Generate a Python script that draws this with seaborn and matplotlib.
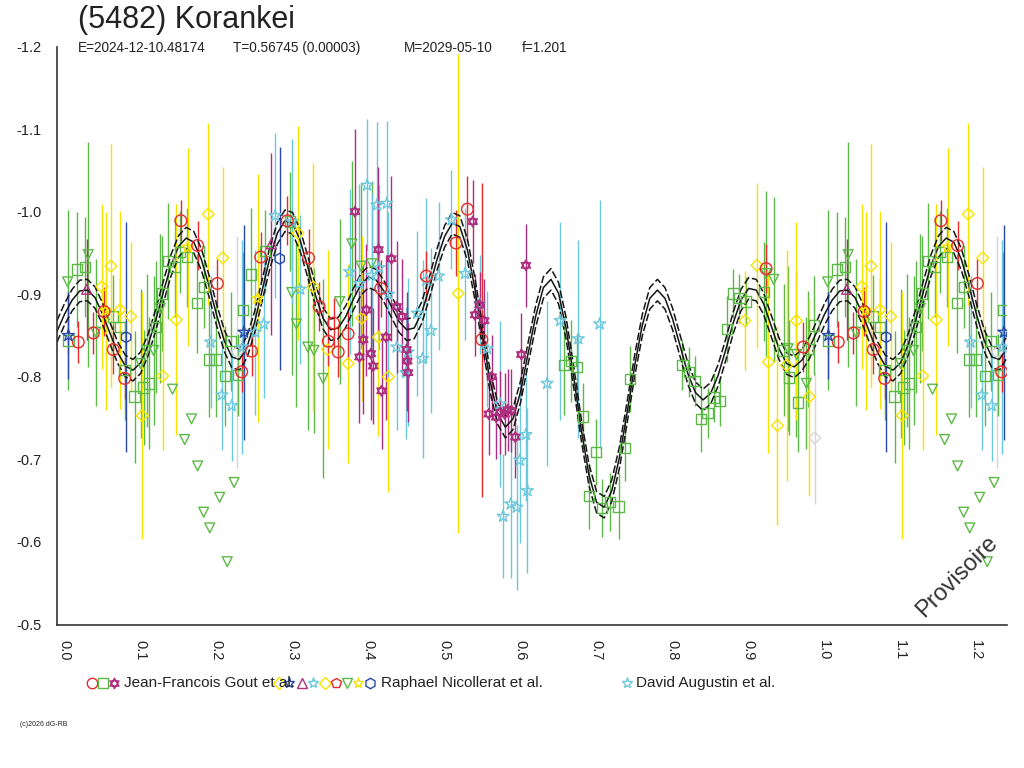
import numpy as np
import pandas as pd
import matplotlib
matplotlib.use("Agg")
import matplotlib.pyplot as plt
from matplotlib.lines import Line2D
from matplotlib.path import Path
import seaborn as sns

# ---- fitted model (phase 0.00 .. 0.99, step 0.01) ----
fit_phase = [round(i / 100, 2) for i in range(100)]
fit_mag = [
    -0.855, -0.876, -0.893, -0.904, -0.905, -0.896, -0.876, -0.852, -0.829, -0.813,
    -0.808, -0.817, -0.839, -0.869, -0.903, -0.935, -0.958, -0.968, -0.963, -0.942,
    -0.910, -0.875, -0.844, -0.824, -0.821, -0.836, -0.866, -0.905, -0.944, -0.974,
    -0.989, -0.986, -0.965, -0.933, -0.899, -0.871, -0.857, -0.859, -0.873, -0.894,
    -0.912, -0.921, -0.917, -0.904, -0.885, -0.867, -0.857, -0.859, -0.878, -0.908,
    -0.942, -0.970, -0.986, -0.982, -0.954, -0.906, -0.849, -0.794, -0.755, -0.739,
    -0.749, -0.782, -0.829, -0.874, -0.908, -0.918, -0.901, -0.858, -0.799, -0.735,
    -0.681, -0.648, -0.642, -0.662, -0.702, -0.756, -0.813, -0.862, -0.895, -0.905,
    -0.895, -0.870, -0.837, -0.804, -0.781, -0.772, -0.780, -0.802, -0.833, -0.866,
    -0.893, -0.907, -0.905, -0.888, -0.861, -0.834, -0.816, -0.812, -0.820, -0.835,
]
fit_spread = 0.013

# ---- observations: Jean-Francois Gout et al. ----
red_phase = [0.028, 0.048, 0.062, 0.074, 0.089, 0.163, 0.185, 0.211, 0.243, 0.256,
             0.268, 0.303, 0.331, 0.345, 0.357, 0.364, 0.370, 0.383, 0.426, 0.486,
             0.525, 0.540, 0.559, 0.933, 0.982]
red_mag = [-0.842, -0.853, -0.879, -0.833, -0.798, -0.989, -0.959, -0.913, -0.806, -0.831,
           -0.945, -0.989, -0.944, -0.885, -0.843, -0.865, -0.830, -0.852, -0.907, -0.922,
           -0.962, -1.003, -0.845, -0.931, -0.836]
red_err = [0.025, 0.025, 0.030, 0.030, 0.025, 0.025, 0.030, 0.030, 0.025, 0.030,
           0.030, 0.030, 0.035, 0.030, 0.030, 0.030, 0.030, 0.030, 0.035, 0.030,
           0.040, 0.040, 0.190, 0.030, 0.030]

sq_phase = [0.015, 0.026, 0.037, 0.074, 0.083, 0.089, 0.102, 0.114, 0.121, 0.130,
            0.138, 0.146, 0.155, 0.162, 0.171, 0.184, 0.193, 0.200, 0.209, 0.221,
            0.229, 0.238, 0.245, 0.255, 0.274, 0.307, 0.667, 0.676, 0.684, 0.692,
            0.700, 0.709, 0.717, 0.728, 0.739, 0.747, 0.754, 0.823, 0.832, 0.839,
            0.847, 0.856, 0.864, 0.872, 0.882, 0.890, 0.898, 0.907, 0.930, 0.956,
            0.963, 0.975, 0.988, 0.996]
sq_mag = [-0.844, -0.930, -0.933, -0.873, -0.860, -0.808, -0.776, -0.787, -0.792, -0.860,
          -0.901, -0.940, -0.933, -0.951, -0.945, -0.889, -0.909, -0.821, -0.821, -0.801,
          -0.843, -0.802, -0.881, -0.924, -0.952, -0.988, -0.814, -0.819, -0.812, -0.752,
          -0.656, -0.709, -0.641, -0.648, -0.643, -0.714, -0.797, -0.814, -0.806, -0.795,
          -0.749, -0.756, -0.775, -0.771, -0.858, -0.901, -0.895, -0.891, -0.903, -0.832,
          -0.799, -0.769, -0.834, -0.862]
sq_err = [0.06, 0.07, 0.06, 0.05, 0.06, 0.06, 0.08, 0.07, 0.08, 0.08,
          0.07, 0.07, 0.06, 0.05, 0.06, 0.06, 0.05, 0.07, 0.07, 0.06,
          0.06, 0.05, 0.07, 0.08, 0.05, 0.06, 0.06, 0.05, 0.04, 0.04,
          0.04, 0.04, 0.035, 0.035, 0.04, 0.04, 0.04, 0.03, 0.03, 0.03,
          0.04, 0.03, 0.03, 0.03, 0.04, 0.03, 0.03, 0.03, 0.06, 0.08,
          0.07, 0.06, 0.07, 0.06]

hexa_phase = [0.392, 0.398, 0.403, 0.407, 0.413, 0.416, 0.423, 0.427, 0.433, 0.440,
              0.447, 0.454, 0.460, 0.461, 0.462, 0.547, 0.550, 0.556, 0.562, 0.568,
              0.572, 0.578, 0.583, 0.589, 0.593, 0.598, 0.603, 0.611, 0.617]
hexa_mag = [-1.000, -0.824, -0.845, -0.881, -0.828, -0.813, -0.954, -0.783, -0.848, -0.943,
            -0.885, -0.873, -0.833, -0.819, -0.805, -0.988, -0.875, -0.887, -0.868, -0.755,
            -0.800, -0.751, -0.757, -0.755, -0.760, -0.759, -0.727, -0.827, -0.935]
hexa_err = [0.10, 0.08, 0.09, 0.08, 0.08, 0.07, 0.10, 0.07, 0.10, 0.10,
            0.08, 0.07, 0.07, 0.06, 0.06, 0.05, 0.05, 0.04, 0.05, 0.05,
            0.05, 0.05, 0.05, 0.05, 0.05, 0.05, 0.05, 0.05, 0.05]

# ---- observations: Raphael Nicollerat et al. ----
dia_phase = [0.059, 0.071, 0.083, 0.097, 0.112, 0.139, 0.157, 0.199, 0.218, 0.317,
             0.337, 0.356, 0.383, 0.401, 0.423, 0.436, 0.528, 0.905, 0.921, 0.936,
             0.948, 0.960, 0.973, 0.990]
dia_mag = [-0.909, -0.934, -0.881, -0.873, -0.753, -0.801, -0.869, -0.997, -0.944, -0.974,
           -0.909, -0.833, -0.816, -0.871, -0.848, -0.800, -0.901, -0.868, -0.935, -0.818,
           -0.741, -0.814, -0.868, -0.776]
dia_err = [0.10, 0.148, 0.12, 0.09, 0.15, 0.09, 0.14, 0.11, 0.11, 0.13,
           0.15, 0.12, 0.12, 0.10, 0.12, 0.14, 0.29, 0.06, 0.10, 0.11,
           0.12, 0.14, 0.12, 0.12]

ystar_phase = [0.064, 0.172, 0.264]
ystar_mag = [-0.880, -0.957, -0.895]
ystar_err = [0.12, 0.12, 0.15]

tri_phase = [0.014, 0.041, 0.051, 0.110, 0.118, 0.127, 0.136, 0.309, 0.315, 0.330,
             0.338, 0.350, 0.372, 0.388, 0.400, 0.414, 0.933, 0.943, 0.962, 0.973,
             0.986, 0.152, 0.168, 0.177, 0.185, 0.193, 0.201, 0.214, 0.224, 0.233]
tri_mag = [-0.915, -0.948, -0.854, -0.816, -0.832, -0.832, -0.883, -0.902, -0.864, -0.836,
           -0.832, -0.798, -0.891, -0.961, -0.934, -0.937, -0.925, -0.918, -0.834, -0.827,
           -0.792, -0.785, -0.724, -0.749, -0.692, -0.636, -0.617, -0.654, -0.576, -0.672]
tri_err = [0.087, 0.136, 0.089, 0.09, 0.093, 0.09, 0.09, 0.10, 0.10, 0.10,
           0.10, 0.12, 0.10, 0.10, 0.10, 0.10, 0.10, 0.10, 0.10, 0.10,
           0.08, 0, 0, 0, 0, 0, 0, 0, 0, 0]

ptri_phase = [0.039, 0.282]
ptri_mag = [-0.906, -0.961]
ptri_err = [0.061, 0.11]

bhex_phase = [0.091, 0.293]
bhex_mag = [-0.848, -0.943]
bhex_err = [0.139, 0.135]

bast_phase = [0.015, 0.246]
bast_mag = [-0.850, -0.854]
bast_err = [0.053, 0.13]

grey_phase = [0.997, 0.237]
grey_mag = [-0.726, -0.830]
grey_err = [0.08, 0.14]

# ---- observations: David Augustin et al. ----
cyan_phase = [0.202, 0.217, 0.230, 0.244, 0.261, 0.272, 0.287, 0.309, 0.320, 0.385,
              0.398, 0.408, 0.414, 0.421, 0.424, 0.434, 0.436, 0.447, 0.459, 0.462,
              0.474, 0.481, 0.486, 0.492, 0.502, 0.519, 0.537, 0.556, 0.566, 0.583,
              0.587, 0.597, 0.605, 0.609, 0.617, 0.619, 0.645, 0.662, 0.686, 0.714]
cyan_mag = [-0.842, -0.778, -0.765, -0.836, -0.854, -0.864, -0.995, -0.988, -0.906, -0.927,
            -0.913, -1.032, -0.923, -1.008, -0.932, -1.010, -0.900, -0.836, -0.805, -0.830,
            -0.877, -0.822, -0.917, -0.856, -0.922, -0.990, -0.925, -0.888, -0.834, -0.767,
            -0.631, -0.646, -0.642, -0.699, -0.730, -0.662, -0.792, -0.868, -0.846, -0.864]
cyan_err = [0.08, 0.067, 0.067, 0.13, 0.10, 0.09, 0.10, 0.10, 0.09, 0.10,
            0.12, 0.08, 0.10, 0.10, 0.10, 0.10, 0.10, 0.10, 0.08, 0.09,
            0.10, 0.12, 0.10, 0.10, 0.09, 0.06, 0.08, 0.06, 0.07, 0.10,
            0.075, 0.09, 0.10, 0.10, 0.08, 0.10, 0.10, 0.12, 0.12, 0.15]

xtick_vals = [0.0, 0.1, 0.2, 0.3, 0.4, 0.5, 0.6, 0.7, 0.8, 0.9, 1.0, 1.1, 1.2]
xtick_labels = ["0.0", "0.1", "0.2", "0.3", "0.4", "0.5", "0.6", "0.7", "0.8", "0.9", "1.0", "1.1", "1.2"]
ytick_vals = [-1.2, -1.1, -1.0, -0.9, -0.8, -0.7, -0.6, -0.5]
ytick_labels = ["-1.2", "-1.1", "-1.0", "-0.9", "-0.8", "-0.7", "-0.6", "-0.5"]

RED = "#E62B2B"
GREEN = "#5DB947"
PURPLE = "#AF2D7E"
YELLOW = "#F8E300"
CYAN = "#6CC8DC"
BLUE = "#2A48A8"
GREY = "#D6D6D6"

hexagram = Path(
    [(0, 1), (-0.866, -0.5), (0.866, -0.5), (0, 1),
     (0, -1), (0.866, 0.5), (-0.866, 0.5), (0, -1)],
    [Path.MOVETO, Path.LINETO, Path.LINETO, Path.CLOSEPOLY,
     Path.MOVETO, Path.LINETO, Path.LINETO, Path.CLOSEPOLY])

series = [
    (grey_phase, grey_mag, grey_err, GREY, "D", 36),
    (sq_phase, sq_mag, sq_err, GREEN, "s", 55),
    (tri_phase, tri_mag, tri_err, GREEN, "v", 50),
    (dia_phase, dia_mag, dia_err, YELLOW, "D", 36),
    (ystar_phase, ystar_mag, ystar_err, YELLOW, "*", 80),
    (cyan_phase, cyan_mag, cyan_err, CYAN, "*", 80),
    (hexa_phase, hexa_mag, hexa_err, PURPLE, hexagram, 60),
    (ptri_phase, ptri_mag, ptri_err, PURPLE, "^", 50),
    (red_phase, red_mag, red_err, RED, "o", 70),
    (bhex_phase, bhex_mag, bhex_err, BLUE, "h", 60),
    (bast_phase, bast_mag, bast_err, BLUE, "*", 80),
]

sns.set_style("white")
plt.rcParams["font.family"] = ["Liberation Sans", "DejaVu Sans"]

fig = plt.figure(figsize=(10.24, 7.68), dpi=100)
ax = fig.add_axes([57 / 1024, 1 - 624.5 / 768, 950 / 1024, 578 / 768])


def wrap(df):
    # the chart repeats the first quarter of the phase after 1.0
    return pd.concat([df, df[df.phase <= 0.25].assign(phase=lambda t: t.phase + 1.0)])


curve = wrap(pd.DataFrame({"phase": fit_phase, "mag": fit_mag}))
for off, style in [(0.0, "-"), (-fit_spread, (0, (5, 1.8))), (fit_spread, (0, (5, 1.8)))]:
    sns.lineplot(x=curve.phase, y=curve.mag + off, ax=ax, color="#151515", lw=1.1,
                 linestyle=style, estimator=None, sort=True, zorder=2)

for ph, mg, er, col, mk, sz in series:
    d = wrap(pd.DataFrame({"phase": ph, "mag": mg, "err": er}))
    e = d[d.err > 0]
    ax.vlines(e.phase, e.mag - e.err, e.mag + e.err, color=col, lw=1.0, zorder=1)
    sns.scatterplot(x=d.phase, y=d.mag, ax=ax, marker=mk, s=sz, color=col,
                    facecolor="none", edgecolor=col, linewidth=1.0, zorder=3, legend=False)

ax.set_xlim(0, 1.25)
ax.set_ylim(-0.5, -1.2)
ax.set_xlabel("")
ax.set_ylabel("")
ax.set_xticks(xtick_vals)
ax.set_xticklabels(xtick_labels, rotation=-90, ha="left", va="top")
ax.set_xticks([0.05, 0.15, 0.25, 0.35, 0.45, 0.55, 0.65, 0.75, 0.85, 0.95, 1.05, 1.15, 1.25], minor=True)
ax.set_yticks(ytick_vals)
ax.set_yticklabels(ytick_labels)
ax.tick_params(axis="both", which="both", direction="out", length=8, width=1.1,
               color="#333333", labelcolor="#222222", labelsize=10.5, pad=3)
for side in ["top", "right"]:
    ax.spines[side].set_visible(False)
for side in ["left", "bottom"]:
    ax.spines[side].set_color("#333333")
    ax.spines[side].set_linewidth(1.2)

# titles
fig.text(78 / 1024, 1 - 20 / 768, "(5482) Korankei", fontsize=22, color="#222222", va="center")
for x, s in [(78, "E=2024-12-10.48174"), (233, "T=0.56745 (0.00003)"),
             (404, "M=2029-05-10"), (522, "f=1.201")]:
    fig.text(x / 1024, 1 - 48 / 768, s, fontsize=9.8, color="#222222", va="center")

fig.text(957 / 1024, 1 - 577 / 768, "Provisoire", fontsize=17, rotation=45,
         ha="center", va="center", color="#333333")
fig.text(20 / 1024, 1 - 725 / 768, "(c)2026 dG-RB", fontsize=5, color="#222222", va="center")

# legend (drawn by hand, entries overlap as in the source)
ly = 1 - 683 / 768
legend_marks = [
    (92, RED, "o"), (103, GREEN, "s"), (114, PURPLE, hexagram),
    (279, YELLOW, "D"), (289, BLUE, "*"), (301.5, PURPLE, "^"), (313, CYAN, "*"),
    (325, YELLOW, "D"), (336, RED, "p"), (347, GREEN, "v"), (358, YELLOW, "*"),
    (370, BLUE, "h"), (627, CYAN, "*"),
]
for x, col, mk in legend_marks:
    ms = 6 if mk == "D" else 8 if mk == "*" else 7.5
    fig.add_artist(Line2D([x / 1024], [ly], transform=fig.transFigure, marker=mk,
                          markersize=ms, markerfacecolor="none", markeredgecolor=col,
                          markeredgewidth=1.0, linestyle="none"))
for x, s in [(124, "Jean-Francois Gout et al."), (381, "Raphael Nicollerat et al."),
             (636, "David Augustin et al.")]:
    fig.text(x / 1024, ly, s, fontsize=11, color="#222222", va="center")

fig.savefig("out.png", dpi=100)
